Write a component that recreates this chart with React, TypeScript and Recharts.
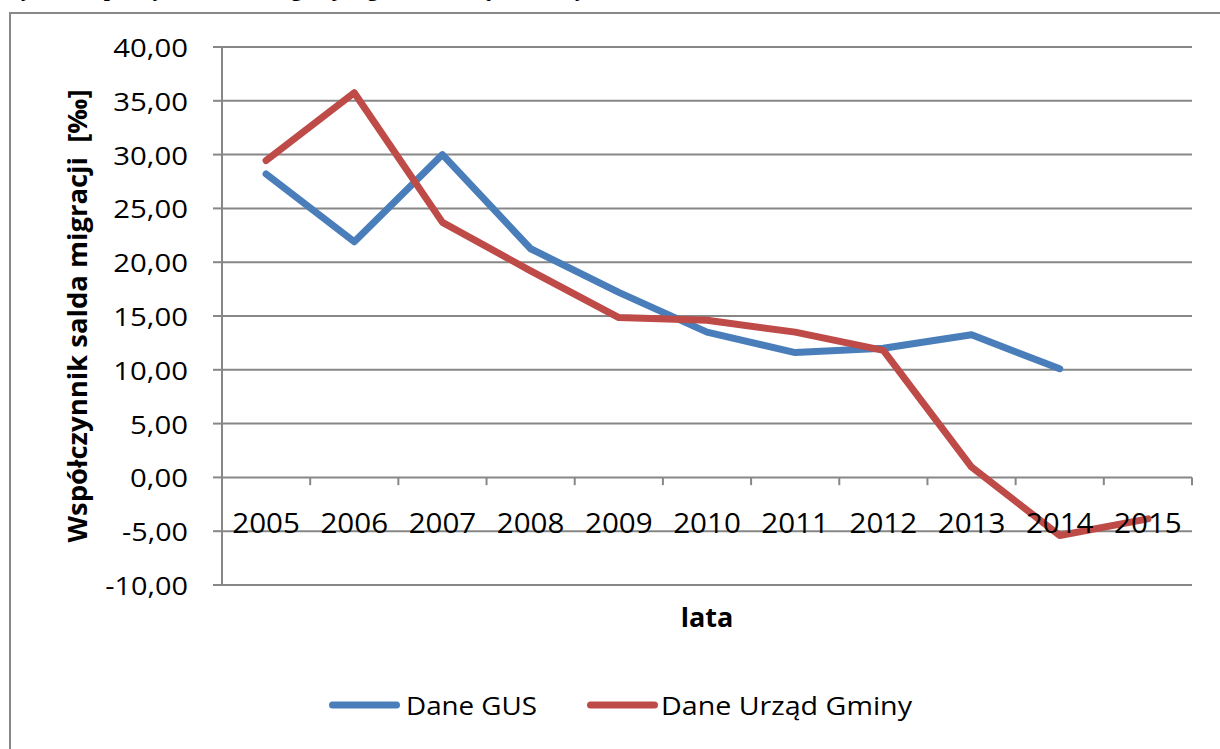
import React from 'react';
import { LineChart, Line, XAxis, YAxis, CartesianGrid, ReferenceDot, ReferenceLine, Legend } from 'recharts';

const years = ['2005', '2006', '2007', '2008', '2009', '2010', '2011', '2012', '2013', '2014', '2015'];
const daneGUS: (number | null)[] = [28.2, 21.9, 30.0, 21.25, 17.2, 13.5, 11.6, 12.0, 13.25, 10.1, null];
const daneUrzad: number[] = [29.45, 35.75, 23.7, 19.2, 14.85, 14.6, 13.5, 11.8, 0.96, -5.4, -3.85];
const yTicks = [-10, -5, 0, 5, 10, 15, 20, 25, 30, 35, 40];
const seriesNames = ['Dane GUS', 'Dane Urząd Gminy'];
const yTitle = 'Współczynnik salda migracji  [‰]';
const xTitle = 'lata';
const pageTitle = 'Rys. 3. Współczynnik salda migracji wg GUS i Urzędu Gminy w latach 2005-2015';

const BLUE = '#4A7EBB';
const RED = '#BE4B48';
const GRID = '#878787';
const FONT = '"Open Sans", "Noto Sans", sans-serif';

const data = years.map((year, i) => ({ x: i + 0.5, year, gus: daneGUS[i], urzad: daneUrzad[i] }));
const boundaries = Array.from({ length: years.length + 1 }, (_, i) => i);

const fmt = (v: number) => v.toFixed(2).replace('.', ',');
const charW = (s: string) =>
  s.split('').reduce((a, c) => a + (c === ',' ? 7.5 : c === '-' ? 8 : 16.8), 0);

const YTick = (props: any) => {
  const { x, y, payload } = props;
  const s = fmt(payload.value);
  return (
    <text x={x} y={y + 10} textAnchor="end" fontFamily={FONT} fontSize={26} fill="#000"
      textLength={charW(s)} lengthAdjust="spacingAndGlyphs">{s}</text>
  );
};

const yearLabel = (year: string) => (props: any) => {
  const vb = props.viewBox || {};
  const cx = (vb.x ?? 0) + (vb.width ?? 0) / 2;
  const cy = (vb.y ?? 0) + (vb.height ?? 0) / 2;
  return (
    <text x={cx} y={cy + 56} textAnchor="middle" fontFamily={FONT} fontSize={27} fill="#000"
      textLength={67.6} lengthAdjust="spacingAndGlyphs">{year}</text>
  );
};

const XTitle = (props: any) => {
  const vb = props.viewBox || {};
  return (
    <text x={vb.x + vb.width / 2} y={vb.y + 42} textAnchor="middle" fontFamily={FONT} fontWeight="bold"
      fontSize={27} fill="#000">{xTitle}</text>
  );
};

const YTitle = (props: any) => {
  const vb = props.viewBox || {};
  const cy = vb.y + vb.height / 2;
  return (
    <text transform={`translate(87, ${cy}) rotate(-90)`} textAnchor="middle" fontFamily={FONT}
      fontWeight="bold" fontSize={27} fill="#000" textLength={453} lengthAdjust="spacingAndGlyphs"
      xmlSpace="preserve" style={{ whiteSpace: 'pre' }}>
      {yTitle}
    </text>
  );
};

const LegendContent = () => (
  <svg width={1220} height={40} style={{ display: 'block' }}>
    <line x1={332.5} x2={396.5} y1={20} y2={20} stroke={BLUE} strokeWidth={7} strokeLinecap="round" />
    <text x={406} y={29.5} fontFamily={FONT} fontSize={26} fill="#000" textLength={131}
      lengthAdjust="spacingAndGlyphs">{seriesNames[0]}</text>
    <line x1={590.5} x2={654.5} y1={20} y2={20} stroke={RED} strokeWidth={7} strokeLinecap="round" />
    <text x={661} y={29.5} fontFamily={FONT} fontSize={26} fill="#000" textLength={251}
      lengthAdjust="spacingAndGlyphs">{seriesNames[1]}</text>
  </svg>
);

export default function App() {
  return (
    <div style={{ position: 'absolute', left: 0, top: 0, width: 1220, height: 749, overflow: 'hidden', background: '#fff' }}>
      <div style={{ position: 'absolute', left: 6, top: -23, font: 'bold 22px "Liberation Serif", serif', lineHeight: '24px', whiteSpace: 'nowrap', color: '#000' }}>
        {pageTitle}
      </div>
      <div style={{ position: 'absolute', left: 9, top: 12, width: 1300, height: 900, border: '2px solid #888', boxSizing: 'border-box' }} />
      <div style={{ position: 'absolute', left: 0, top: 0 }}>
        <LineChart width={1220} height={749} data={data} margin={{ top: 47, right: 28, bottom: 64, left: 0 }}>
          <CartesianGrid vertical={false} stroke={GRID} strokeWidth={2} />
          <XAxis type="number" dataKey="x" domain={[0, years.length]} ticks={[]} tick={false}
            axisLine={false} tickLine={false} height={60} allowDataOverflow label={<XTitle />} />
          <YAxis type="number" domain={[-10, 40]} ticks={yTicks} interval={0} width={222}
            axisLine={{ stroke: GRID, strokeWidth: 2 }} tickLine={{ stroke: GRID, strokeWidth: 2 }}
            tickSize={9} tickMargin={25} tick={<YTick />} label={<YTitle />} allowDataOverflow />
          {boundaries.map((b) => (
            <ReferenceLine key={'t' + b} segment={[{ x: b, y: 0 }, { x: b, y: -0.72 }]} stroke={GRID}
              strokeWidth={2} ifOverflow="visible" />
          ))}
          {data.map((d) => (
            <ReferenceDot key={'l' + d.year} x={d.x} y={0} r={0} fill="none" stroke="none"
              ifOverflow="visible" label={{ value: d.year, content: yearLabel(d.year) }} />
          ))}
          <Line type="linear" dataKey="gus" name={seriesNames[0]} stroke={BLUE} strokeWidth={7}
            dot={false} activeDot={false} isAnimationActive={false} strokeLinejoin="round" strokeLinecap="round" />
          <Line type="linear" dataKey="urzad" name={seriesNames[1]} stroke={RED} strokeWidth={7}
            dot={false} activeDot={false} isAnimationActive={false} strokeLinejoin="round" strokeLinecap="round" />
          <Legend content={<LegendContent />} verticalAlign="bottom" height={40}
            wrapperStyle={{ position: 'absolute', left: 0, top: 685, bottom: 'auto', width: 1220, height: 40 }} />
        </LineChart>
      </div>
    </div>
  );
}
